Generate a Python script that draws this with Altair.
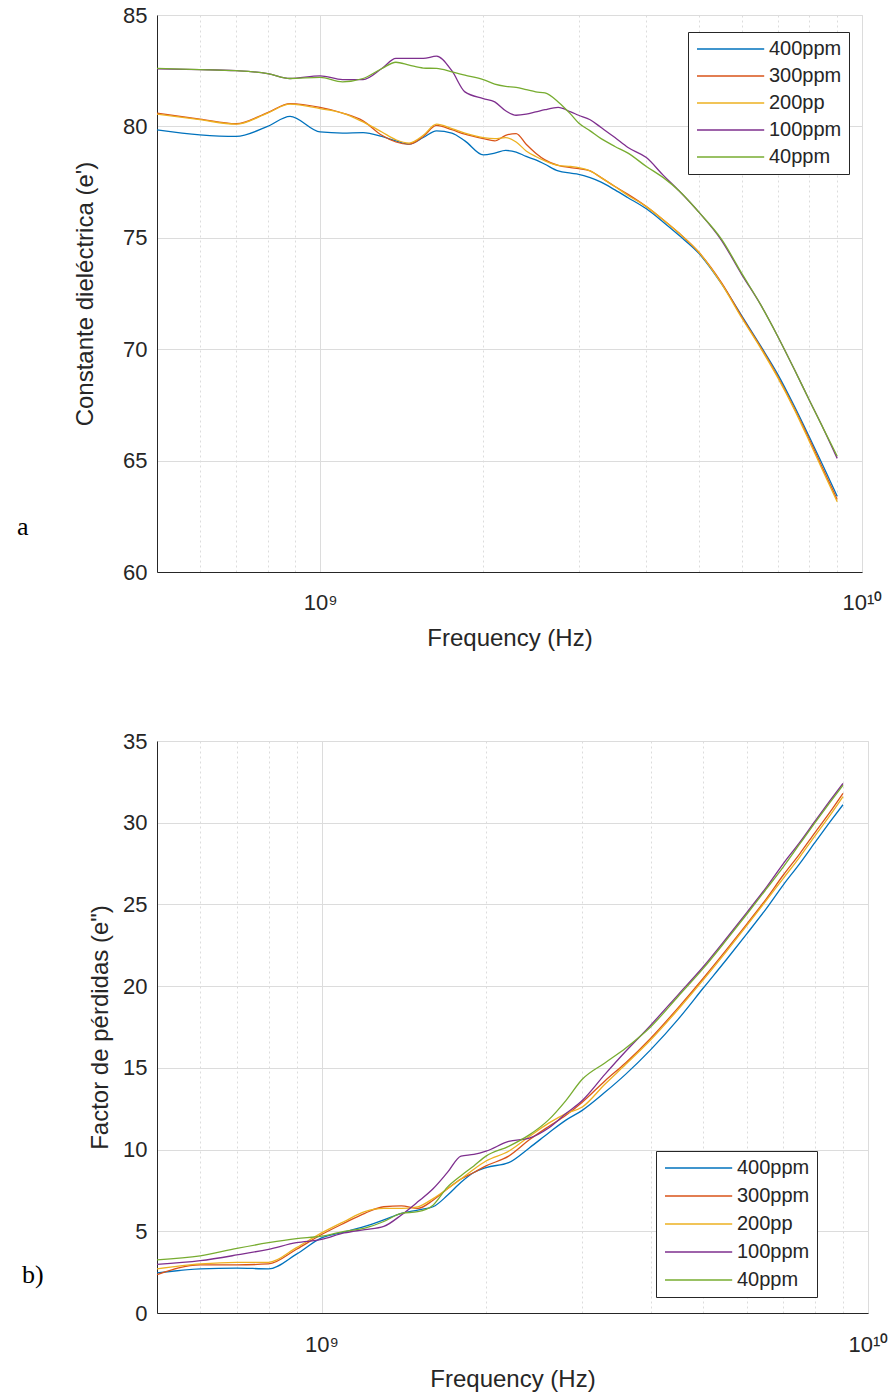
import altair as alt
import pandas as pd

SERIES = ["400ppm", "300ppm", "200pp", "100ppm", "40ppm"]
COLORS = ["#0072BD", "#D95319", "#EDB120", "#7E2F8E", "#77AC30"]
PANEL_LABELS = ["a", "b)"]

# ---- top panel: Constante dieléctrica (e') ----
top_freq_ghz = [0.5, 0.6, 0.7, 0.8, 0.88, 1.0, 1.1, 1.2, 1.3, 1.38, 1.46, 1.55, 1.64, 1.75, 1.85,
                2.0, 2.1, 2.2, 2.3, 2.4, 2.5, 2.6, 2.75, 2.9, 3.0, 3.15, 3.3, 3.5, 3.7, 4.0,
                4.3, 4.6, 5.0, 5.5, 6.0, 6.5, 7.0, 7.5, 8.0, 8.5, 9.0]
top_400 = [79.84, 79.62, 79.55, 80.0, 80.45, 79.75, 79.7, 79.72, 79.55, 79.35, 79.2, 79.5, 79.8, 79.7, 79.35,
           78.72, 78.8, 78.92, 78.85, 78.65, 78.5, 78.3, 78.0, 77.9, 77.85, 77.7, 77.5, 77.15, 76.8, 76.3,
           75.7, 75.1, 74.3, 72.95, 71.5, 70.15, 68.85, 67.45, 66.05, 64.7, 63.4]
top_300 = [80.6, 80.33, 80.12, 80.62, 81.02, 80.85, 80.6, 80.25, 79.6, 79.3, 79.2, 79.55, 80.05, 79.85, 79.65,
           79.45, 79.35, 79.6, 79.68, 79.2, 78.8, 78.5, 78.25, 78.15, 78.1, 78.0, 77.7, 77.3, 76.95, 76.4,
           75.8, 75.2, 74.35, 73.0, 71.45, 70.1, 68.75, 67.35, 65.95, 64.55, 63.25]
top_200 = [80.55, 80.3, 80.1, 80.6, 81.0, 80.8, 80.6, 80.2, 79.75, 79.4, 79.25, 79.6, 80.1, 79.9, 79.7,
           79.5, 79.45, 79.5, 79.3, 78.9, 78.65, 78.45, 78.25, 78.2, 78.15, 78.0, 77.7, 77.3, 76.9, 76.4,
           75.8, 75.2, 74.35, 72.95, 71.4, 70.05, 68.7, 67.3, 65.85, 64.45, 63.15]
top_100 = [82.58, 82.55, 82.5, 82.37, 82.15, 82.27, 82.1, 82.1, 82.6, 83.05, 83.05, 83.05, 83.15, 82.5, 81.55,
           81.25, 81.1, 80.7, 80.5, 80.55, 80.65, 80.75, 80.85, 80.65, 80.5, 80.3, 79.95, 79.5, 79.05, 78.6,
           77.8, 77.1, 76.15, 74.9, 73.35, 72.0, 70.55, 69.1, 67.7, 66.4, 65.1]
top_40 = [82.6, 82.55, 82.5, 82.37, 82.15, 82.2, 82.0, 82.15, 82.6, 82.88, 82.75, 82.62, 82.6, 82.45, 82.3,
          82.1, 81.9, 81.8, 81.75, 81.65, 81.55, 81.5, 81.1, 80.55, 80.15, 79.8, 79.45, 79.1, 78.8, 78.2,
          77.7, 77.1, 76.15, 74.95, 73.4, 72.0, 70.55, 69.1, 67.7, 66.4, 65.2]

# ---- bottom panel: Factor de pérdidas (e") ----
bot_freq_ghz = [0.5, 0.6, 0.7, 0.8, 0.9, 1.0, 1.1, 1.2, 1.3, 1.4, 1.5, 1.6, 1.7, 1.8, 1.9,
                2.0, 2.2, 2.4, 2.6, 2.8, 3.0, 3.3, 3.6, 4.0, 4.5, 5.0, 5.5, 6.0, 6.5, 7.0,
                7.5, 8.0, 8.5, 9.0]
bot_400 = [2.45, 2.7, 2.75, 2.7, 3.6, 4.6, 4.95, 5.3, 5.7, 6.1, 6.3, 6.5, 7.2, 8.0, 8.6,
           8.9, 9.2, 10.1, 11.0, 11.8, 12.4, 13.5, 14.6, 16.1, 18.0, 19.9, 21.6, 23.2, 24.7, 26.2,
           27.5, 28.8, 30.0, 31.1]
bot_300 = [2.35, 2.95, 2.95, 3.0, 3.9, 4.8, 5.5, 6.1, 6.5, 6.55, 6.4, 6.9, 7.6, 8.2, 8.6,
           9.0, 9.6, 10.6, 11.4, 12.1, 12.9, 14.2, 15.3, 16.8, 18.7, 20.5, 22.2, 23.8, 25.3, 26.8,
           28.1, 29.4, 30.6, 31.8]
bot_200 = [2.7, 3.0, 3.1, 3.1, 4.0, 4.9, 5.6, 6.2, 6.4, 6.4, 6.5, 7.0, 7.6, 8.2, 8.8,
           9.3, 9.9, 10.8, 11.6, 12.2, 12.6, 14.0, 15.2, 16.7, 18.6, 20.4, 22.1, 23.7, 25.2, 26.6,
           27.9, 29.2, 30.4, 31.6]
bot_100 = [2.98, 3.2, 3.55, 3.9, 4.3, 4.5, 4.9, 5.1, 5.3, 6.0, 6.8, 7.6, 8.6, 9.6, 9.7,
           9.9, 10.5, 10.7, 11.3, 12.2, 13.0, 14.6, 16.0, 17.6, 19.5, 21.2, 22.9, 24.5, 26.0, 27.5,
           28.8, 30.1, 31.3, 32.4]
bot_40 = [3.25, 3.5, 3.95, 4.3, 4.55, 4.7, 5.0, 5.2, 5.6, 6.1, 6.2, 6.6, 7.7, 8.4, 9.0,
          9.6, 10.2, 10.9, 11.8, 13.0, 14.3, 15.3, 16.2, 17.5, 19.4, 21.1, 22.8, 24.4, 25.9, 27.3,
          28.7, 30.0, 31.2, 32.3]

X_TICKS = [5e8, 6e8, 7e8, 8e8, 9e8, 1e9, 2e9, 3e9, 4e9, 5e9, 6e9, 7e9, 8e9, 9e9, 1e10]
TOP_Y_TICKS = [60, 65, 70, 75, 80, 85]
BOT_Y_TICKS = [0, 5, 10, 15, 20, 25, 30, 35]

FONT = "Liberation Sans"
SERIF = "Liberation Serif"
INK = "#262626"
GRID = "#dcdcdc"


def long_df(freqs, arrays):
    rows = []
    for name, vals in zip(SERIES, arrays):
        for f, v in zip(freqs, vals):
            rows.append({"freq": f * 1e9, "value": v, "series": name})
    return pd.DataFrame(rows)


top_df = long_df(top_freq_ghz, [top_400, top_300, top_200, top_100, top_40])
bot_df = long_df(bot_freq_ghz, [bot_400, bot_300, bot_200, bot_100, bot_40])

label_expr = "datum.value == 1e9 ? '10⁹' : (datum.value == 1e10 ? '10¹⁰' : '')"
grid_dash = {"condition": {"test": "datum.value == 1e9 || datum.value == 1e10", "value": []},
             "value": [2, 3]}


def x_axis(label_pad, title_pad):
    return alt.Axis(values=X_TICKS, labelExpr=label_expr, grid=True, gridDash=grid_dash,
                    gridColor=GRID, ticks=False, domainColor=INK, labelFont=FONT,
                    labelFontSize=22, labelColor=INK, labelPadding=label_pad,
                    labelFlush=False, labelOverlap=False, title="Frequency (Hz)",
                    titleFont=FONT, titleFontSize=24, titleFontWeight="normal",
                    titleColor=INK, titlePadding=title_pad)


def y_axis(title, values, label_pad, title_pad):
    return alt.Axis(values=values, grid=True, gridColor=GRID, ticks=False, domainColor=INK,
                    labelFont=FONT, labelFontSize=22, labelColor=INK, labelPadding=label_pad,
                    labelFlush=False, title=title, titleFont=FONT, titleFontSize=24,
                    titleFontWeight="normal", titleColor=INK, titlePadding=title_pad)


def legend(lx, ly, row_pad):
    return alt.Legend(orient="none", legendX=lx, legendY=ly, symbolType="M-1,0H7.4",
                      symbolSize=256, symbolStrokeWidth=1.5, labelFont=FONT, labelFontSize=20,
                      labelColor=INK, labelOffset=54, rowPadding=row_pad, padding=7,
                      strokeColor=INK, fillColor="white")


def panel(df, ydomain, yticks, ytitle, lx, ly, row_pad, label_text, tx, ty, xl_pad, xt_pad, yt_pad, w, h):
    lines = alt.Chart(df).mark_line(strokeWidth=1.3, interpolate="monotone").encode(
        x=alt.X("freq:Q", scale=alt.Scale(type="log", domain=[5e8, 1e10], nice=False),
                axis=x_axis(xl_pad, xt_pad)),
        y=alt.Y("value:Q", scale=alt.Scale(domain=ydomain, nice=False, zero=False),
                axis=y_axis(ytitle, yticks, 10, yt_pad)),
        color=alt.Color("series:N", scale=alt.Scale(domain=SERIES, range=COLORS),
                        legend=legend(lx, ly, row_pad), title=None),
        detail="series:N",
    )
    tag = alt.Chart(pd.DataFrame({"t": [label_text]})).mark_text(
        font=SERIF, fontSize=26, align="left", baseline="alphabetic", color="black"
    ).encode(text="t:N", x=alt.value(tx), y=alt.value(ty))
    return alt.layer(lines, tag).properties(width=w, height=h)


top = panel(top_df, [60, 85], TOP_Y_TICKS, "Constante dieléctrica (e')", 531, 17, 7,
            PANEL_LABELS[0], -140, 520, 20, 13, 25, 705, 557)
bottom = panel(bot_df, [0, 35], BOT_Y_TICKS, 'Factor de pérdidas (e")', 499, 410, 8,
               PANEL_LABELS[1], -135, 542, 21, 12, 10, 711, 572)

chart = alt.vconcat(top, bottom, spacing=78).resolve_legend(color="independent").properties(
    padding={"left": 16, "top": 3, "right": 0, "bottom": 0}
).configure_view(stroke="#d9d9d9").configure(background="white")

chart.save("out.html", embed_options={"renderer": "svg", "actions": False})
